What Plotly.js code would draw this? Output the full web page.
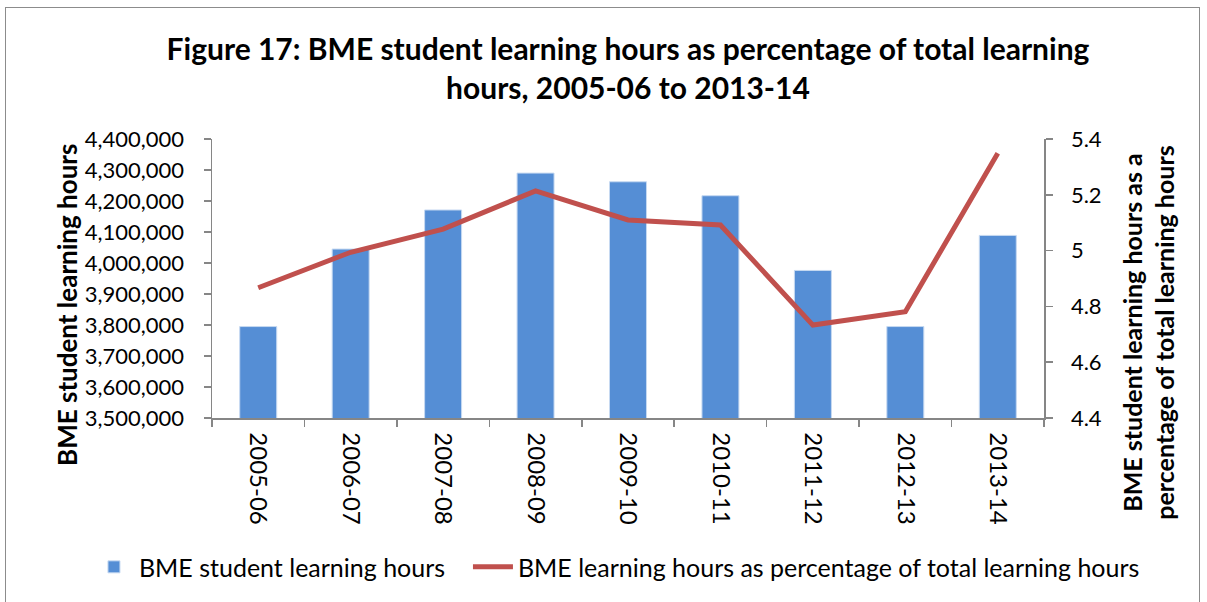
<!DOCTYPE html>
<html>
<head>
<meta charset="utf-8">
<script src="https://cdn.plot.ly/plotly-3.0.1.min.js"></script>
<style>
  html, body { margin: 0; padding: 0; background: #fff; }
  #wrap { position: relative; width: 1207px; height: 602px; overflow: hidden; }
  #chart { width: 1207px; height: 602px; }
  #frame { position: absolute; left: 5px; top: 7px; width: 1193px; height: 640px;
           border: 1px solid #8c8c8c; pointer-events: none; }
</style>
</head>
<body>
<div id="wrap">
  <div id="chart"></div>
  <div id="frame"></div>
</div>
<script>
const categories = ["2005-06","2006-07","2007-08","2008-09","2009-10","2010-11","2011-12","2012-13","2013-14"];
const learningHours = [3795000, 4045000, 4171000, 4290000, 4262000, 4217000, 3976000, 3795000, 4089000];
const percentOfTotal = [4.867, 4.994, 5.077, 5.214, 5.110, 5.092, 4.733, 4.781, 5.349];
const leftTicks = [3500000, 3600000, 3700000, 3800000, 3900000, 4000000, 4100000, 4200000, 4300000, 4400000];
const leftTickLabels = ["3,500,000","3,600,000","3,700,000","3,800,000","3,900,000","4,000,000","4,100,000","4,200,000","4,300,000","4,400,000"];
const rightTicks = [4.4, 4.6, 4.8, 5.0, 5.2, 5.4];
const rightTickLabels = ["4.4","4.6","4.8","5","5.2","5.4"];
const leftTitle = "BME student learning hours";
const rightTitle = "BME student learning hours as a<br>percentage of total learning hours";

const FONT = "Lato, 'Open Sans', sans-serif";
const AXIS = "#868686";

const traces = [
  {
    type: "bar",
    name: "BME student learning hours",
    x: categories,
    y: learningHours,
    marker: { color: "#558ED5", line: { color: "#c6d9f1", width: 1 } },
    yaxis: "y",
    legend: "legend"
  },
  {
    type: "scatter",
    mode: "lines",
    name: "BME learning hours as percentage of total learning hours",
    x: categories,
    y: percentOfTotal,
    line: { color: "#C0504D", width: 5 },
    yaxis: "y2",
    legend: "legend2"
  }
];

const legendCommon = {
  orientation: "h",
  xanchor: "left", xref: "container",
  y: 0.058, yanchor: "middle", yref: "container",
  font: { family: FONT, size: 25, color: "#000" },
  itemwidth: 40,
  bgcolor: "rgba(0,0,0,0)"
};

const layout = {
  width: 1207,
  height: 602,
  paper_bgcolor: "#ffffff",
  plot_bgcolor: "#ffffff",
  margin: { l: 212, r: 163, t: 139, b: 184, pad: 0 },
  bargap: 0.6,
  showlegend: true,
  font: { family: FONT, color: "#000" },
  title: {
    text: "Figure 17: BME student learning hours as percentage of total learning<br>hours, 2005-06 to 2013-14",
    font: { family: FONT, size: 30, color: "#000", weight: "bold" },
    x: 0.5, xanchor: "center", xref: "paper",
    y: 0.90, yanchor: "top", yref: "container"
  },
  xaxis: {
    type: "category",
    showline: true, linecolor: AXIS, linewidth: 1.5,
    ticks: "outside", tickson: "boundaries", ticklen: 7, tickcolor: AXIS, tickwidth: 1.5,
    tickangle: 90,
    ticklabelstandoff: 8,
    tickfont: { family: FONT, size: 24, color: "#000" },
    showgrid: false, zeroline: false
  },
  yaxis: {
    range: [3500000, 4400000],
    tickvals: leftTicks, ticktext: leftTickLabels,
    showline: true, linecolor: AXIS, linewidth: 1.5,
    ticks: "outside", ticklen: 7, tickcolor: AXIS, tickwidth: 1.5,
    ticklabelstandoff: 15,
    tickfont: { family: FONT, size: 22, color: "#000" },
    showgrid: false, zeroline: false
  },
  yaxis2: {
    overlaying: "y", side: "right",
    range: [4.4, 5.4],
    tickvals: rightTicks, ticktext: rightTickLabels,
    showline: true, linecolor: AXIS, linewidth: 1.5,
    ticks: "outside", ticklen: 7, tickcolor: AXIS, tickwidth: 1.5,
    ticklabelstandoff: 14,
    tickfont: { family: FONT, size: 22, color: "#000" },
    showgrid: false, zeroline: false
  },
  annotations: [
    {
      text: leftTitle, textangle: -90, showarrow: false,
      xref: "paper", yref: "paper", x: -0.1743, y: 0.405,
      xanchor: "center", yanchor: "middle",
      font: { family: FONT, size: 26, color: "#000", weight: "bold" }
    },
    {
      text: rightTitle, textangle: -90, showarrow: false,
      xref: "paper", yref: "paper", x: 1.126, y: 0.305,
      xanchor: "center", yanchor: "middle",
      font: { family: FONT, size: 25, color: "#000", weight: "bold" }
    }
  ],
  legend: Object.assign({}, legendCommon, { x: 0.0737 }),
  legend2: Object.assign({}, legendCommon, { x: 0.3877 })
};

Plotly.newPlot("chart", traces, layout, { displayModeBar: false, staticPlot: true });
</script>
</body>
</html>
